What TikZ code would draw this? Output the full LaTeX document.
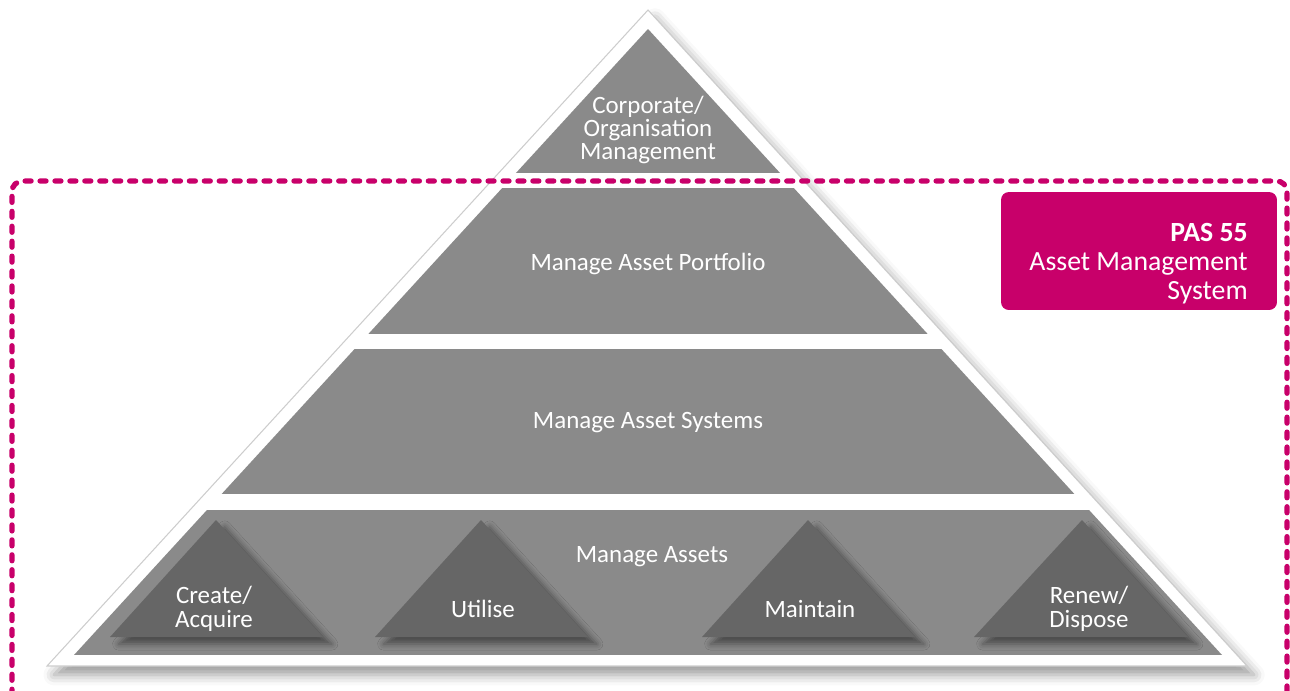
\documentclass[tikz,border=0pt]{standalone}
\usepackage{fontspec}
\setmainfont{Carlito}
\usetikzlibrary{shadows.blur}

\begin{document}
\begin{tikzpicture}[x=0.02cm,y=-0.02cm,
	lvltext/.style={text=white,font=\fontsize{14.2}{13.3}\selectfont,align=center,inner sep=0pt},
	subtri/.style={fill=trigray,blur shadow={shadow xshift=5pt,shadow yshift=-4pt,shadow opacity=45,shadow blur radius=3.5pt}}]
	\definecolor{bandgray}{RGB}{138,138,138}
	\definecolor{trigray}{RGB}{102,102,102}
	\definecolor{pasmagenta}{RGB}{200,0,106}
	\definecolor{edgegray}{RGB}{205,205,205}

	\useasboundingbox (0,0) rectangle (1290,690);

	% white pyramid with its shadow
	\fill[white,draw=edgegray,line width=0.6pt,blur shadow={shadow xshift=4pt,shadow yshift=-5pt,shadow opacity=40,shadow blur radius=6pt}]
		(648,10) -- (47,666) -- (1247,666) -- cycle;

	% the four levels
	\begin{scope}
		\clip (648,29) -- (74,655) -- (1222,655) -- cycle;
		\fill[bandgray] (0,20) rectangle (1290,173);
		\fill[bandgray] (0,188) rectangle (1290,334);
		\fill[bandgray] (0,349) rectangle (1290,494);
		\fill[bandgray] (0,510) rectangle (1290,655);
	\end{scope}

	% life cycle triangles
	\fill[subtri] (216,520) -- (110,637) -- (323,637) -- cycle;
	\fill[subtri] (481,520) -- (375,637) -- (588,637) -- cycle;
	\fill[subtri] (808,520) -- (702,637) -- (915,637) -- cycle;
	\fill[subtri] (1082,520) -- (974,637) -- (1188,637) -- cycle;

	\node[lvltext] (corporate) at (648,130) {Corporate/\\Organisation\\Management};
	\node[lvltext] (portfolio) at (648,264) {Manage Asset Portfolio};
	\node[lvltext] (systems) at (648,423) {Manage Asset Systems};
	\node[lvltext] (assets) at (652,557) {Manage Assets};
	\node[lvltext] (create) at (214,609) {Create/\\Acquire};
	\node[lvltext] (utilise) at (483,609) {Utilise};
	\node[lvltext] (maintain) at (810,609) {Maintain};
	\node[lvltext] (renew) at (1089,609) {Renew/\\Dispose};

	% PAS 55 scope
	\draw[pasmagenta,line width=3pt,line cap=round,dash pattern=on 3.4pt off 5.1pt,rounded corners=6pt]
		(12,740) -- (12,181) -- (1287,181) -- (1287,740);
	\node[fill=pasmagenta,rounded corners=4.5pt,minimum width=5.52cm,minimum height=2.36cm] (pas) at (1139,251) {};
	\node[anchor=east,inner sep=0pt,align=right,text=white,font=\fontsize{15.8}{16.5}\selectfont] (pastext) at (1248,264)
		{\textbf{PAS 55}\\Asset Management\\System};
\end{tikzpicture}
\end{document}
